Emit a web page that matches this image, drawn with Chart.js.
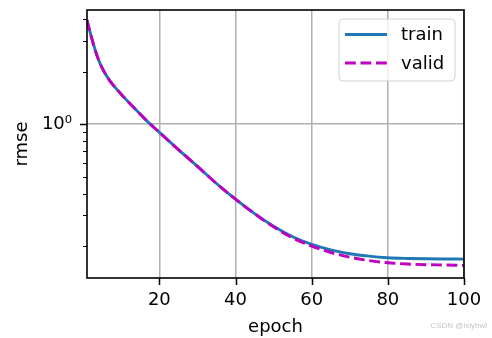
<!DOCTYPE html>
<html>
<head>
<meta charset="utf-8">
<script src="https://cdn.jsdelivr.net/npm/chart.js@4"></script>
<style>
  html, body { margin: 0; padding: 0; background: #fff; }
  #wrap { width: 492px; height: 338px; }
</style>
</head>
<body>
<div id="wrap"><canvas id="rmseChart" width="492" height="338"></canvas></div>
<script>
const epochs = [1, 2, 3, 4, 5, 6, 7, 8, 10, 12, 14, 17, 20, 25, 30, 35, 40, 45, 50, 55, 60, 65, 70, 75, 80, 85, 90, 95, 100]
const trainRmse = [3.94, 3.24, 2.72, 2.34, 2.09, 1.91, 1.77, 1.66, 1.48, 1.33, 1.20, 1.03, 0.897, 0.714, 0.573, 0.457, 0.3715, 0.307, 0.260, 0.2265, 0.2046, 0.1905, 0.1811, 0.1754, 0.1718, 0.1702, 0.1694, 0.169, 0.1687]
const validRmse = [3.94, 3.24, 2.72, 2.34, 2.09, 1.91, 1.77, 1.66, 1.48, 1.33, 1.20, 1.03, 0.897, 0.714, 0.573, 0.457, 0.3715, 0.307, 0.258, 0.2228, 0.2004, 0.184, 0.173, 0.1656, 0.1607, 0.1581, 0.1567, 0.156, 0.1552]
const xTicks = [20, 40, 60, 80, 100]
const yMajor = [1]
const yMinor = [0.2, 0.3, 0.4, 0.5, 0.6, 0.7, 0.8, 0.9, 2, 3, 4]

const FONT = 'DejaVu Sans'
const ctx = document.getElementById('rmseChart').getContext('2d')

// frame, tick marks, legend and watermark, drawn after the series
const decorations = {
    id: 'decorations',
    afterDraw(chart) {
        const c = chart.ctx
        const a = chart.chartArea
        const xs = chart.scales.x
        const ys = chart.scales.y
        c.save()

        // tick marks
        c.strokeStyle = '#000'
        c.lineWidth = 1.5
        c.beginPath()
        xTicks.forEach(v => {
            const px = Math.round(xs.getPixelForValue(v)) + 0.5
            c.moveTo(px, a.bottom); c.lineTo(px, a.bottom + 7)
        })
        yMajor.forEach(v => {
            const py = Math.round(ys.getPixelForValue(v)) + 0.5
            c.moveTo(a.left, py); c.lineTo(a.left - 7, py)
        })
        c.stroke()
        c.lineWidth = 1.2
        c.beginPath()
        yMinor.forEach(v => {
            const py = Math.round(ys.getPixelForValue(v)) + 0.5
            c.moveTo(a.left, py); c.lineTo(a.left - 4, py)
        })
        c.stroke()

        // spines
        c.lineWidth = 1.6
        c.strokeRect(a.left, a.top, a.right - a.left, a.bottom - a.top)

        // legend
        const bx = 339, by = 19, bw = 116, bh = 62, r = 4
        c.beginPath()
        c.moveTo(bx + r, by)
        c.arcTo(bx + bw, by, bx + bw, by + bh, r)
        c.arcTo(bx + bw, by + bh, bx, by + bh, r)
        c.arcTo(bx, by + bh, bx, by, r)
        c.arcTo(bx, by, bx + bw, by, r)
        c.closePath()
        c.fillStyle = 'rgba(255,255,255,0.8)'
        c.fill()
        c.strokeStyle = 'rgba(204,204,204,0.9)'
        c.lineWidth = 1
        c.stroke()

        const items = [
            { label: 'train', color: '#1f77b4', dash: [], y: 34.5 },
            { label: 'valid', color: '#bf00bf', dash: [10.8, 4.7], y: 63 }
        ]
        items.forEach(it => {
            c.strokeStyle = it.color
            c.lineWidth = 2.9
            c.setLineDash(it.dash)
            c.beginPath()
            c.moveTo(345, it.y); c.lineTo(387, it.y)
            c.stroke()
            c.setLineDash([])
            c.fillStyle = '#000'
            c.font = '18px "' + FONT + '"'
            c.textBaseline = 'middle'
            c.textAlign = 'left'
            c.fillText(it.label, 401, it.y + 1)
        })

        // watermark
        c.fillStyle = '#c4c4c4'
        c.font = '8px "Liberation Sans"'
        c.textAlign = 'right'
        c.fillText('CSDN @lxlyhwl', 487, 326)
        c.restore()
    }
}

new Chart(ctx, {
    type: 'line',
    data: {
        datasets: [
            {
                label: 'train',
                data: epochs.map((e, i) => ({ x: e, y: trainRmse[i] })),
                borderColor: '#1f77b4',
                borderWidth: 2.9,
                pointRadius: 0,
                cubicInterpolationMode: 'monotone',
                fill: false,
                order: 2
            },
            {
                label: 'valid',
                data: epochs.map((e, i) => ({ x: e, y: validRmse[i] })),
                borderColor: '#bf00bf',
                borderWidth: 2.9,
                borderDash: [10.8, 4.7],
                pointRadius: 0,
                cubicInterpolationMode: 'monotone',
                fill: false,
                order: 1
            }
        ]
    },
    options: {
        responsive: false,
        animation: false,
        layout: { padding: { top: 10, right: 28, left: 0, bottom: 0 } },
        plugins: {
            legend: { display: false },
            tooltip: { enabled: false }
        },
        scales: {
            x: {
                type: 'linear',
                min: 1,
                max: 100,
                afterBuildTicks: s => { s.ticks = xTicks.map(v => ({ value: v })) },
                afterFit: s => { s.height = 60; s.paddingLeft = 0; s.paddingRight = 0 },
                grid: { color: '#b0b0b0', lineWidth: 1.5, drawTicks: false },
                border: { display: false },
                ticks: {
                    color: '#000',
                    padding: 12,
                    maxRotation: 0,
                    font: { family: FONT, size: 18 }
                },
                title: {
                    display: true,
                    text: 'epoch',
                    color: '#000',
                    padding: { top: 0, bottom: 0 },
                    font: { family: FONT, size: 18 }
                }
            },
            y: {
                type: 'logarithmic',
                min: 0.1315,
                max: 4.5,
                afterBuildTicks: s => { s.ticks = yMajor.map(v => ({ value: v })) },
                afterFit: s => { s.width = 87; s.paddingTop = 0; s.paddingBottom = 0 },
                grid: { color: '#b0b0b0', lineWidth: 1.5, drawTicks: false },
                border: { display: false },
                ticks: {
                    color: '#000',
                    padding: 15,
                    font: { family: FONT, size: 18 },
                    callback: v => v === 1 ? '10\u2070' : ''
                },
                title: {
                    display: true,
                    text: 'rmse',
                    color: '#000',
                    padding: { top: 12, bottom: 0 },
                    font: { family: FONT, size: 18 }
                }
            }
        }
    },
    plugins: [decorations]
})
</script>
</body>
</html>
